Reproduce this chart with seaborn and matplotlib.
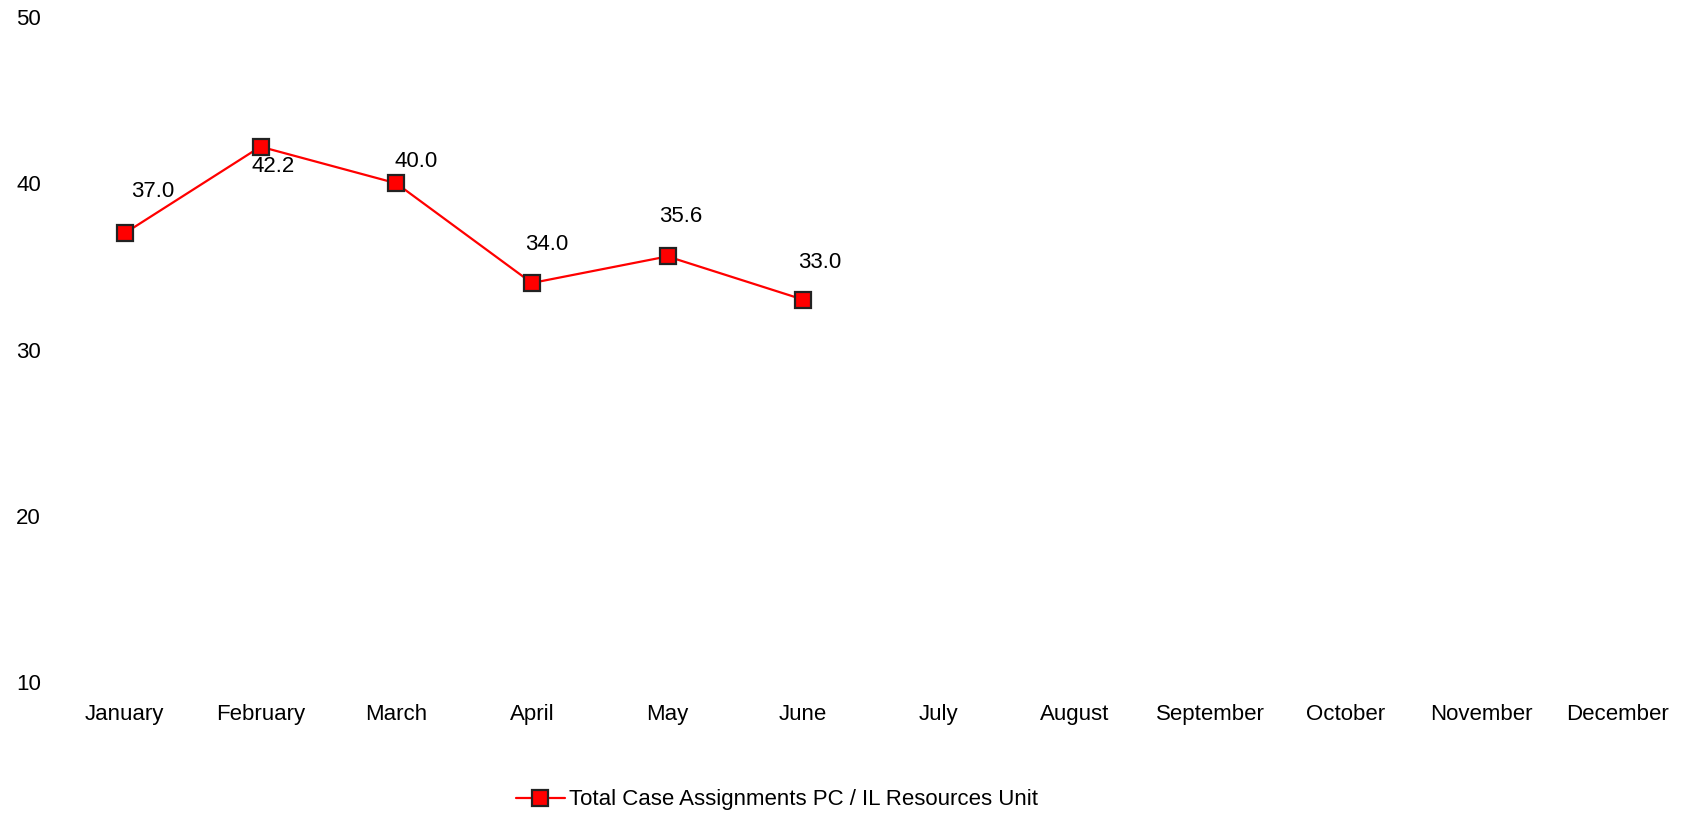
import matplotlib
matplotlib.use("Agg")
import matplotlib.pyplot as plt
import seaborn as sns
import pandas as pd

months = ["January", "February", "March", "April", "May", "June",
          "July", "August", "September", "October", "November", "December"]
values = [37.0, 42.2, 40.0, 34.0, 35.6, 33.0]
series_name = "Total Case Assignments PC / IL Resources Unit"
y_ticks = [10, 20, 30, 40, 50]

# label offsets in pixels (dx, dy upward positive)
label_offsets = [(28, 42), (13, -20), (20, 22), (15, 39), (13, 40), (17, 37)]

sns.set_theme(style="white")
plt.rcParams['font.family'] = ['Liberation Sans', 'DejaVu Sans']
plt.rcParams['text.color'] = 'black'
plt.rcParams['xtick.color'] = 'black'
plt.rcParams['ytick.color'] = 'black'

FS = 16

fig = plt.figure(figsize=(16.88, 8.14), dpi=100)
ax = fig.add_axes([57 / 1688, 132 / 814, (1685 - 57) / 1688, (682 - 17) / 814])

df = pd.DataFrame({"idx": list(range(len(values))), "value": values,
                   "series": series_name})
sns.lineplot(data=df, x="idx", y="value", hue="series", palette=["#ff0000"],
             marker="s", markersize=11, markerfacecolor="#ff0000",
             markeredgecolor="#222222", markeredgewidth=1.6, linewidth=1.6,
             ax=ax)

for i, (v, (dx, dy)) in enumerate(zip(values, label_offsets)):
    ax.annotate(f"{v:.1f}", (i, v), xytext=(dx, dy), textcoords="offset pixels",
                ha="center", va="center", fontsize=FS, color="black")

ax.set_xlim(-0.5, len(months) - 0.5)
ax.set_ylim(10, 50)
ax.set_xticks(range(len(months)))
ax.set_xticklabels(months, fontsize=FS, color="black")
ax.set_yticks(y_ticks)
ax.set_yticklabels([str(t) for t in y_ticks], fontsize=FS, ha="left", color="black")
ax.tick_params(axis="y", pad=29.5, length=0)
ax.tick_params(axis="x", pad=15.5, length=0)
ax.set_xlabel("")
ax.set_ylabel("")
for s in ax.spines.values():
    s.set_visible(False)
ax.grid(False)

ax.legend_.remove()
handles, labels = ax.get_legend_handles_labels()
leg = fig.legend(handles, labels, loc="center", bbox_to_anchor=(777 / 1688, 14 / 814),
                 frameon=False, fontsize=FS, handlelength=2.2, handletextpad=0.2)
for t in leg.get_texts():
    t.set_color("black")

fig.savefig("out.png", dpi=100)
